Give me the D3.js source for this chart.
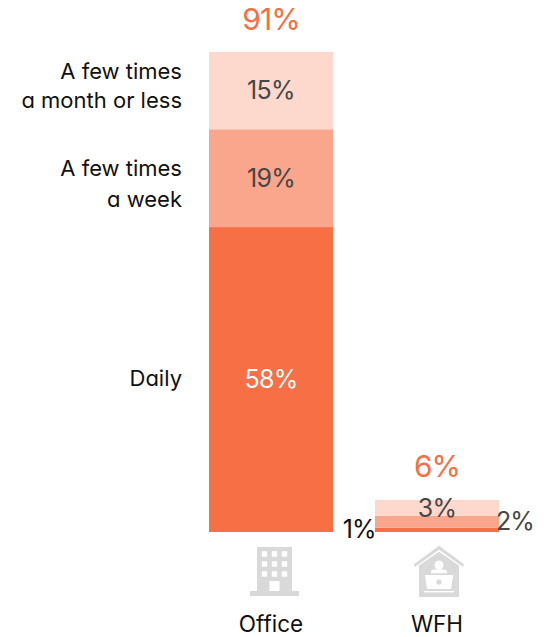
<!DOCTYPE html>
<html><head><meta charset="utf-8">
<script src="https://cdn.jsdelivr.net/npm/d3@7"></script>
<style>html,body{margin:0;padding:0;background:#fff}svg{display:block}text{font-family:Inter,"Liberation Sans",sans-serif;font-feature-settings:"cv11" 1}</style>
</head><body><svg id="c" width="556" height="637"></svg>
<script>
const categories = ["Office", "WFH"];
const seriesNames = ["Daily", "A few times a week", "A few times a month or less"];
const daily = [58, 0.8];
const weekly = [18.6, 2.3];
const monthly = [14.7, 3];
const dailyLabels = ["58%", "1%"];
const weeklyLabels = ["19%", "2%"];
const monthlyLabels = ["15%", "3%"];
const totalLabels = ["91%", "6%"];
const colors = ["#f76f44", "#f9a68c", "#fdd8cd"];
const legendLines = [["Daily"], ["A few times", "a week"], ["A few times", "a month or less"]];

const svg = d3.select("#c");
const x = d3.scaleBand().domain(categories).range([188, 520]).paddingInner(0.2529).paddingOuter(0.1265);
const y = d3.scaleLinear().domain([0, 91.3]).range([532, 52]);
const rows = categories.map((c, i) => ({cat: c, v: [daily[i], weekly[i], monthly[i]]}));
const stack = d3.stack().keys([0, 1, 2]).value((d, k) => d.v[k]);
const layers = stack(rows);

svg.selectAll("g.l").data(layers).join("g").attr("fill", (d, i) => colors[i])
  .selectAll("rect").data(d => d.map(p => ({p, cat: p.data.cat}))).join("rect")
  .attr("x", d => x(d.cat)).attr("width", x.bandwidth())
  .attr("y", d => y(d.p[1])).attr("height", d => y(d.p[0]) - y(d.p[1]));

const text = (s, px, py, size, fill, anchor = "middle", ls = 0) => svg.append("text").text(s)
  .attr("x", px).attr("y", py).attr("font-size", size).attr("fill", fill)
  .attr("text-anchor", anchor).attr("letter-spacing", ls);

const cx = c => x(c) + x.bandwidth() / 2;
[dailyLabels, weeklyLabels, monthlyLabels].forEach((l, k) => {
  const p = layers[k][0];
  text(l[0], cx("Office"), (y(p[0]) + y(p[1])) / 2 + 8.5, 25, k === 0 ? "#fff" : "#474747", "middle", -0.7);
});
text(monthlyLabels[1], cx("WFH"), 516.5, 25, "#474747", "middle", -0.7);
text(weeklyLabels[1], x("WFH") + x.bandwidth() - 3, 530, 25, "#474747", "start", -0.9);
text(dailyLabels[1], x("WFH") + 1, 537.5, 25, "#111", "end", -0.7);
text(totalLabels[0], cx("Office"), 30, 30, "#f76f44", "middle", -1);
text(totalLabels[1], cx("WFH"), 477, 30, "#f76f44", "middle", -1);
text(legendLines[0][0], 182, 386, 22, "#111", "end");
legendLines[1].forEach((s, i) => text(s, 182, [176, 207][i], 22, "#111", "end"));
legendLines[2].forEach((s, i) => text(s, 182, [79, 108][i], 22, "#111", "end"));
categories.forEach(c => text(c, cx(c), 632, 22.5, "#111"));

const g = "#d9d9d9";
// Office icon
const off = svg.append("g").attr("transform", `translate(${cx("Office") + 3.5},0)`);
off.append("path").attr("fill", g).attr("fill-rule", "evenodd").attr("d", (() => {
  let d = "M-17.5 547H17.5V591H24.5V596H-24.5V591H-17.5Z";
  [-10, 0, 10].forEach(wx => [554, 564, 574].forEach(wy => {
    d += `M${wx - 2.7} ${wy - 2.7}h5.4v5.4h-5.4Z`;
  }));
  d += "M-5 581H5V591H-5Z";
  return d;
})());
// WFH icon
const wf = svg.append("g").attr("transform", `translate(${cx("WFH") + 2},0)`);
wf.append("path").attr("fill", g).attr("d", "M0 545.7L25.3 564.5L23.8 566.8L0 549.8L-23.8 566.8L-25.3 564.5Z");
wf.append("path").attr("fill", g).attr("d", "M0 551.7L20 565.5V597H-20V565.5Z");
wf.append("circle").attr("cx", 0).attr("cy", 565).attr("r", 4.5).attr("fill", "#fff");
wf.append("path").attr("fill", "#fff").attr("d", "M-8 573.3V572Q-8 569.5 -5 569.5H5Q8 569.5 8 572V573.3Z");
wf.append("path").attr("fill", "#fff").attr("d", "M-14 575H14.3L12 589H-12Z");
wf.append("circle").attr("cx", 0).attr("cy", 582).attr("r", 2.6).attr("fill", g);
wf.append("rect").attr("x", -15).attr("y", 591).attr("width", 30).attr("height", 1.4).attr("fill", "#fff");
</script></body></html>
